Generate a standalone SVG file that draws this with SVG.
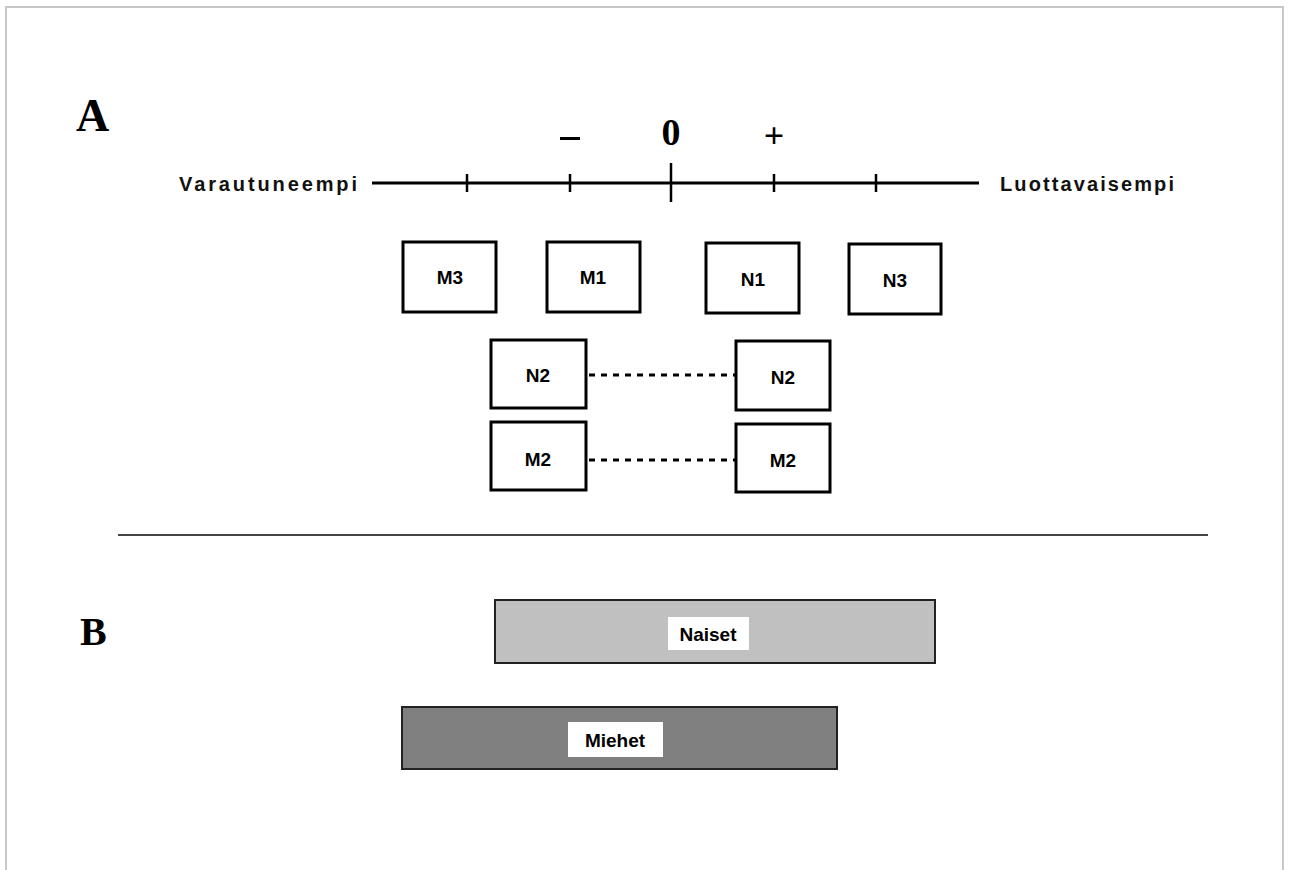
<svg xmlns="http://www.w3.org/2000/svg" width="1290" height="870" viewBox="0 0 1290 870">
<style>
.box{fill:#fff;stroke:#000;stroke-width:3}
.lbl{font-family:"Liberation Sans",Arial,sans-serif;font-weight:bold;font-size:19px;fill:#000;text-anchor:middle;dominant-baseline:central}
.big{font-family:"Liberation Serif","Times New Roman",serif;font-weight:bold;fill:#000}
.side{font-family:"Liberation Sans",Arial,sans-serif;font-weight:bold;font-size:20px;fill:#111;dominant-baseline:central}
.dot{stroke:#000;stroke-width:3;stroke-dasharray:6,6;fill:none}
</style>
<rect width="1290" height="870" fill="#fff"/>
<path d="M6,880 V7 H1283 V880" fill="none" stroke="#c8c8c8" stroke-width="2"/>
<text class="big" x="76" y="131" font-size="46">A</text>
<text class="big" x="80" y="645" font-size="40">B</text>
<g id="axis">
<line x1="372" y1="183" x2="979" y2="183" stroke="#000" stroke-width="3"/>
<g stroke="#000" stroke-width="2.5">
<line x1="467" y1="174" x2="467" y2="192"/>
<line x1="570" y1="174" x2="570" y2="192"/>
<line x1="671" y1="163" x2="671" y2="202"/>
<line x1="774" y1="174" x2="774" y2="192"/>
<line x1="876" y1="174" x2="876" y2="192"/>
</g>
<rect x="560" y="137" width="20" height="3" fill="#000"/>
<text class="big" x="671" y="145" font-size="38" text-anchor="middle">0</text>
<text class="big" x="774" y="148" font-size="36" text-anchor="middle">+</text>
<text class="side" x="179" y="184" textLength="178" lengthAdjust="spacing">Varautuneempi</text>
<text class="side" x="1000" y="184" textLength="174" lengthAdjust="spacing">Luottavaisempi</text>
</g>
<g id="M3"><rect class="box" x="403" y="242" width="93" height="70"/><text class="lbl" x="450" y="277">M3</text></g>
<g id="M1"><rect class="box" x="547" y="242" width="93" height="70"/><text class="lbl" x="593" y="277">M1</text></g>
<g id="N1"><rect class="box" x="706" y="243" width="93" height="70"/><text class="lbl" x="753" y="279">N1</text></g>
<g id="N3"><rect class="box" x="849" y="244" width="92" height="70"/><text class="lbl" x="895" y="280">N3</text></g>
<g id="N2a"><rect class="box" x="491" y="340" width="95" height="68"/><text class="lbl" x="538" y="375">N2</text></g>
<g id="N2b"><rect class="box" x="736" y="341" width="94" height="69"/><text class="lbl" x="783" y="377">N2</text></g>
<g id="M2a"><rect class="box" x="491" y="422" width="95" height="68"/><text class="lbl" x="538" y="459">M2</text></g>
<g id="M2b"><rect class="box" x="736" y="424" width="94" height="68"/><text class="lbl" x="783" y="460">M2</text></g>
<g id="connectors">
<line class="dot" x1="589" y1="375" x2="736" y2="375"/>
<line class="dot" x1="589" y1="460" x2="736" y2="460"/>
</g>
<line x1="118" y1="535" x2="1208" y2="535" stroke="#444" stroke-width="2"/>
<g id="Naiset"><rect x="495" y="600" width="440" height="63" fill="#c0c0c0" stroke="#222" stroke-width="2"/><rect x="668" y="617" width="81" height="33" fill="#fff"/><text class="lbl" x="708" y="634">Naiset</text></g>
<g id="Miehet"><rect x="402" y="707" width="435" height="62" fill="#808080" stroke="#222" stroke-width="2"/><rect x="568" y="722" width="95" height="35" fill="#fff"/><text class="lbl" x="615" y="740">Miehet</text></g>
</svg>
